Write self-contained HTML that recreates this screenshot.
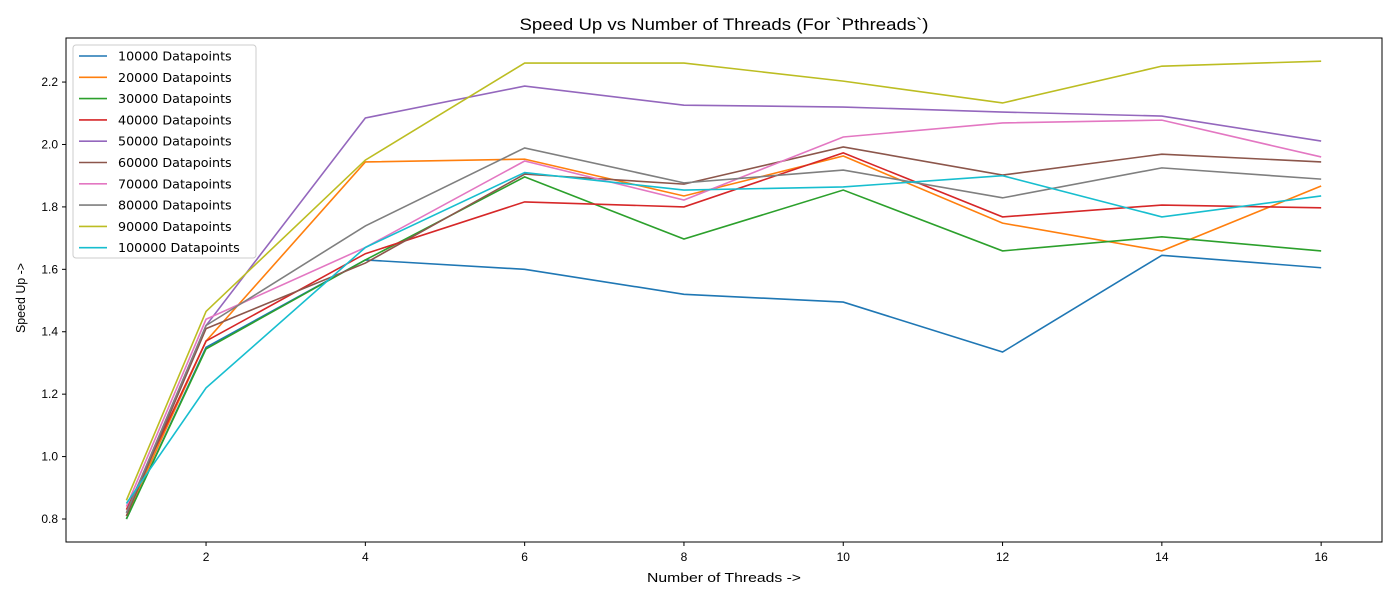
<!DOCTYPE html>
<html><head><meta charset="utf-8"><style>
body{margin:0;background:#fff;}
svg text{font-family:"Liberation Sans",sans-serif;fill:#000;}
</style></head><body>
<svg id="chart" width="1400" height="600" xmlns="http://www.w3.org/2000/svg">
<text x="724" y="30" font-size="17" text-anchor="middle" textLength="409" lengthAdjust="spacingAndGlyphs">Speed Up vs Number of Threads (For `Pthreads`)</text>
<text x="724" y="582" font-size="13" text-anchor="middle" textLength="154" lengthAdjust="spacingAndGlyphs">Number of Threads -&gt;</text>
<text x="0" y="0" font-size="13" text-anchor="middle" textLength="70" lengthAdjust="spacingAndGlyphs" transform="translate(25,298) rotate(-90)">Speed Up -&gt;</text>
<g id="marks"></g>
<rect x="66" y="38" width="1316" height="504" fill="none" stroke="#000" stroke-width="1"/>
<g id="ticks"></g>
<g id="legend"></g>
</svg>
<script>
const threads=[1,2,4,6,8,10,12,14,16];
const xTicks=[2,4,6,8,10,12,14,16];
const yTicks=[0.8,1.0,1.2,1.4,1.6,1.8,2.0,2.2];
const seriesNames=["10000 Datapoints","20000 Datapoints","30000 Datapoints","40000 Datapoints","50000 Datapoints","60000 Datapoints","70000 Datapoints","80000 Datapoints","90000 Datapoints","100000 Datapoints"];
const s10000=[0.80,1.35,1.63,1.60,1.52,1.495,1.335,1.645,1.605];
const s20000=[0.81,1.37,1.944,1.953,1.835,1.963,1.748,1.659,1.867];
const s30000=[0.80,1.345,1.63,1.896,1.697,1.854,1.659,1.704,1.659];
const s40000=[0.83,1.37,1.65,1.816,1.80,1.973,1.768,1.806,1.797];
const s50000=[0.82,1.42,2.085,2.187,2.126,2.12,2.104,2.091,2.011];
const s60000=[0.81,1.41,1.62,1.905,1.873,1.992,1.902,1.969,1.944];
const s70000=[0.84,1.44,1.67,1.947,1.822,2.024,2.069,2.078,1.96];
const s80000=[0.82,1.42,1.739,1.989,1.877,1.918,1.829,1.925,1.889];
const s90000=[0.86,1.465,1.95,2.261,2.261,2.203,2.133,2.251,2.267];
const s100000=[0.85,1.22,1.67,1.91,1.854,1.864,1.90,1.768,1.835];
const colors=["#1f77b4","#ff7f0e","#2ca02c","#d62728","#9467bd","#8c564b","#e377c2","#7f7f7f","#bcbd22","#17becf"];
const allSeries=[s10000,s20000,s30000,s40000,s50000,s60000,s70000,s80000,s90000,s100000];
const NS="http://www.w3.org/2000/svg";
function xs(t){return 126.4+(t-1)*79.65;}
function ys(v){return 519-(v-0.8)*312.1;}
function mk(tag,attrs,parent){const e=document.createElementNS(NS,tag);for(const k in attrs)e.setAttribute(k,attrs[k]);parent.appendChild(e);return e;}
const marks=document.getElementById('marks');
allSeries.forEach((s,i)=>{
  const p=mk('polyline',{points:s.map((v,j)=>xs(threads[j])+','+ys(v)).join(' '),fill:'none',stroke:colors[i],'stroke-width':1.6},marks);
  
  
});
const ticks=document.getElementById('ticks');
xTicks.forEach(t=>{
  const l=mk('line',{x1:xs(t),x2:xs(t),y1:542,y2:546,stroke:'#000'},ticks);
  
  
  const tx=mk('text',{x:xs(t),y:561,'font-size':12,'text-anchor':'middle'},ticks);tx.textContent=t;
  
  
});
yTicks.forEach(v=>{
  const l=mk('line',{x1:62,x2:66,y1:ys(v),y2:ys(v),stroke:'#000'},ticks);
  
  
  const tx=mk('text',{x:58,y:ys(v)+4,'font-size':12,'text-anchor':'end'},ticks);tx.textContent=v.toFixed(1);
  
  
});
const lg=document.getElementById('legend');
const box=mk('rect',{x:73,y:45,width:183,height:213,rx:3,fill:'#fff','fill-opacity':0.8,stroke:'#ccc'},lg);


seriesNames.forEach((n,i)=>{
  const y=56+i*21.3;
  const l=mk('line',{x1:79,x2:107,y1:y,y2:y,stroke:colors[i],'stroke-width':1.6},lg);
  
  
  const t=mk('text',{x:118,y:y+4.5,'font-size':12.7,style:'font-family:"DejaVu Sans",sans-serif'},lg);t.textContent=n;
  
  
});
</script>
</body></html>
